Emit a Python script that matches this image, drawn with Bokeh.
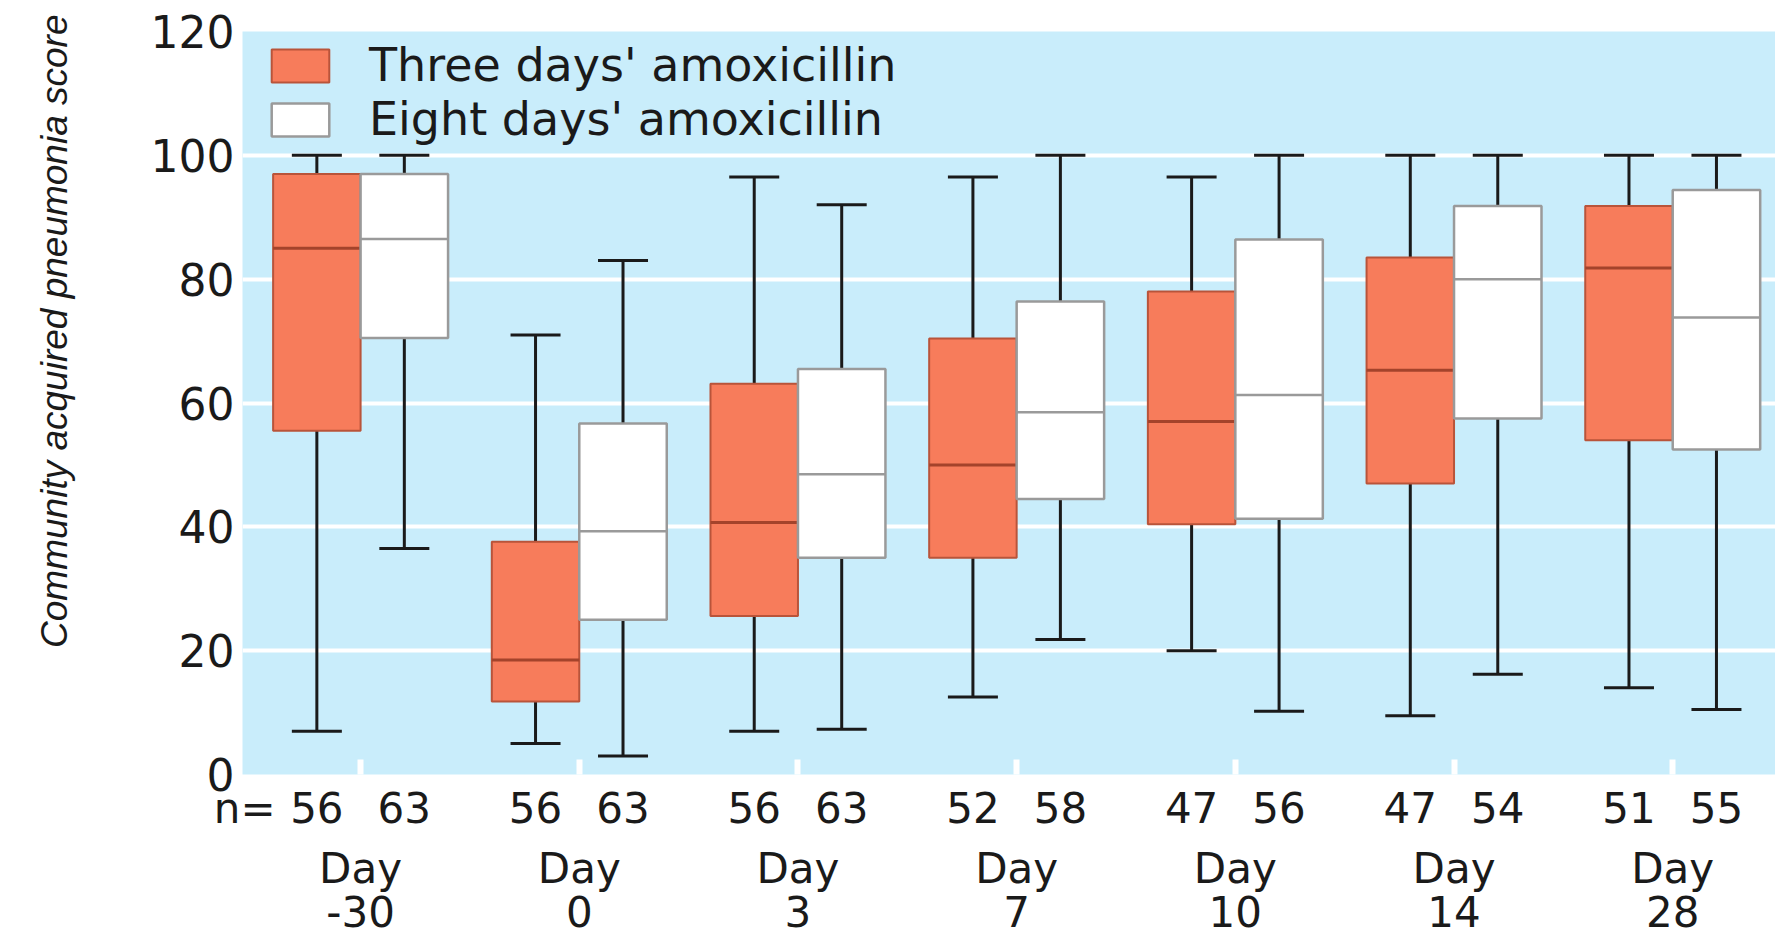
from bokeh.plotting import figure
from bokeh.layouts import row
from bokeh.models import (ColumnDataSource, FixedTicker, LinearAxis, Whisker, TeeHead,
                          Legend, LegendItem, Range1d, Title)
from bokeh.embed import file_html
from bokeh.resources import INLINE

# ---- data ----
days = ["-30", "0", "3", "7", "10", "14", "28"]
n_three = [56, 56, 56, 52, 47, 47, 51]
n_eight = [63, 63, 63, 58, 56, 54, 55]

three_min = [7, 5, 7, 12.5, 20, 9.5, 14]
three_q1 = [55.5, 11.8, 25.6, 35, 40.4, 47, 54]
three_med = [85, 18.5, 40.7, 50, 57, 65.3, 81.8]
three_q3 = [97, 37.6, 63.1, 70.4, 78, 83.5, 91.8]
three_max = [100, 71, 96.5, 96.5, 96.5, 100, 100]

eight_min = [36.5, 3, 7.3, 21.8, 10.2, 16.2, 10.5]
eight_q1 = [70.5, 25, 35, 44.5, 41.3, 57.5, 52.5]
eight_med = [86.5, 39.3, 48.5, 58.5, 61.3, 80, 73.8]
eight_q3 = [97, 56.7, 65.5, 76.4, 86.4, 91.8, 94.4]
eight_max = [100, 83, 92, 100, 100, 100, 100]

y_ticks = [0, 20, 40, 60, 80, 100, 120]
series_labels = ["Three days' amoxicillin", "Eight days' amoxicillin"]
y_title = "Community acquired pneumonia score"
n_prefix = "n="

# ---- styling ----
BG = "#c9edfb"
ORANGE = "#f77c5b"
ORANGE_EDGE = "#b9543a"
ORANGE_MED = "#a4432b"
WHITE_EDGE = "#9a9a9a"
INK = "#1a1a1a"
FONT = "DejaVu Sans"
BOX_W = 0.4
OFF = 0.2
TITLE_W = 80

xs = list(range(len(days)))

# ---- narrow left strip carrying the y-axis title (placed high, as in the reference) ----
tfig = figure(width=TITLE_W, height=940, output_backend="svg", toolbar_location=None,
              x_range=Range1d(0, 1), y_range=Range1d(0, 1),
              x_axis_location=None, y_axis_location=None,
              min_border_left=74, min_border_right=0, min_border_top=0, min_border_bottom=0)
tfig.grid.visible = False
tfig.outline_line_color = None
tfig.background_fill_color = "white"
tfig.border_fill_color = "white"
tfig.add_layout(Title(text=y_title, align="right", offset=-17, vertical_align="bottom",
                      standoff=0, text_font="Liberation Sans", text_font_style="italic",
                      text_font_size="37px", text_color=INK), "left")

# ---- main chart ----
p = figure(width=1775 - TITLE_W, height=940, output_backend="svg", toolbar_location=None,
           x_range=Range1d(-0.54, 6.47), y_range=Range1d(0, 120),
           x_axis_location=None, y_axis_location=None,
           min_border_top=31, min_border_left=242 - TITLE_W, min_border_right=0,
           min_border_bottom=0)
p.background_fill_color = BG
p.border_fill_color = "white"
p.outline_line_color = None

# grid
yticker = FixedTicker(ticks=y_ticks)
p.xgrid.visible = False
p.ygrid.ticker = yticker
p.ygrid.grid_line_color = "white"
p.ygrid.grid_line_width = 4

# y axis (tick labels)
yaxis = LinearAxis(ticker=yticker)
yaxis.axis_line_color = None
yaxis.major_tick_line_color = None
yaxis.major_tick_out = 0
yaxis.minor_tick_line_color = None
yaxis.major_label_text_font = FONT
yaxis.major_label_text_font_size = "44px"
yaxis.major_label_text_color = INK
yaxis.major_label_standoff = 8
p.add_layout(yaxis, "left")

# x: white group tick marks inside the frame
tick_axis = LinearAxis(ticker=FixedTicker(ticks=xs),
                       major_label_overrides={i: "" for i in xs})
tick_axis.axis_line_color = None
tick_axis.minor_tick_line_color = None
tick_axis.major_tick_in = 15
tick_axis.major_tick_out = 0
tick_axis.major_tick_line_color = "white"
tick_axis.major_tick_line_width = 6
tick_axis.major_label_text_font_size = "1px"
tick_axis.major_label_standoff = 0
p.add_layout(tick_axis, "below")

# x: n= row
n_pos = [-0.53]
n_lab = {-0.53: n_prefix}
for i in xs:
    a = round(i - OFF, 2)
    b = round(i + OFF, 2)
    n_pos += [a, b]
    n_lab[a] = str(n_three[i])
    n_lab[b] = str(n_eight[i])
n_axis = LinearAxis(ticker=FixedTicker(ticks=n_pos), major_label_overrides=n_lab)
n_axis.axis_line_color = None
n_axis.major_tick_line_color = None
n_axis.major_tick_out = 0
n_axis.minor_tick_line_color = None
n_axis.major_label_text_font = FONT
n_axis.major_label_text_font_size = "42px"
n_axis.major_label_text_color = INK
n_axis.major_label_standoff = 9
p.add_layout(n_axis, "below")

# x: Day row
day_axis = LinearAxis(ticker=FixedTicker(ticks=xs),
                      major_label_overrides={i: "Day\n" + d for i, d in zip(xs, days)})
day_axis.axis_line_color = None
day_axis.major_tick_line_color = None
day_axis.major_tick_out = 0
day_axis.minor_tick_line_color = None
day_axis.major_label_text_font = FONT
day_axis.major_label_text_font_size = "42px"
day_axis.major_label_text_color = INK
day_axis.major_label_text_line_height = 0.91
day_axis.major_label_standoff = 8
p.add_layout(day_axis, "below")


def make_source(offset, lo, q1, med, q3, hi):
    xc = [i + offset for i in xs]
    return ColumnDataSource(dict(
        x=xc, left=[x - BOX_W / 2 for x in xc], right=[x + BOX_W / 2 for x in xc],
        lower=lo, q1=q1, med=med, q3=q3, upper=hi))


src3 = make_source(-OFF, three_min, three_q1, three_med, three_q3, three_max)
src8 = make_source(OFF, eight_min, eight_q1, eight_med, eight_q3, eight_max)

for src in (src3, src8):
    w = Whisker(source=src, base="x", lower="lower", upper="upper", dimension="height",
                line_color=INK, line_width=3, level="underlay",
                upper_head=TeeHead(size=50, line_color=INK, line_width=3),
                lower_head=TeeHead(size=50, line_color=INK, line_width=3))
    p.add_layout(w)

r3 = p.vbar(x="x", width=BOX_W, top="q3", bottom="q1", source=src3,
            fill_color=ORANGE, line_color=ORANGE_EDGE, line_width=2)
p.segment(x0="left", x1="right", y0="med", y1="med", source=src3,
          line_color=ORANGE_MED, line_width=3)
r8 = p.vbar(x="x", width=BOX_W, top="q3", bottom="q1", source=src8,
            fill_color="white", line_color=WHITE_EDGE, line_width=2.5)
p.segment(x0="left", x1="right", y0="med", y1="med", source=src8,
          line_color=WHITE_EDGE, line_width=2.5)

legend = Legend(items=[LegendItem(label=series_labels[0], renderers=[r3]),
                       LegendItem(label=series_labels[1], renderers=[r8])],
                location=(22, 628), glyph_width=72, glyph_height=41,
                label_text_font=FONT, label_text_font_size="46px", label_text_color=INK,
                label_standoff=33, spacing=-5, padding=0, margin=0,
                background_fill_alpha=0, border_line_color=None)
p.add_layout(legend)

layout = row(tfig, p, spacing=0)
open("out.html", "w").write(file_html(layout, INLINE))
